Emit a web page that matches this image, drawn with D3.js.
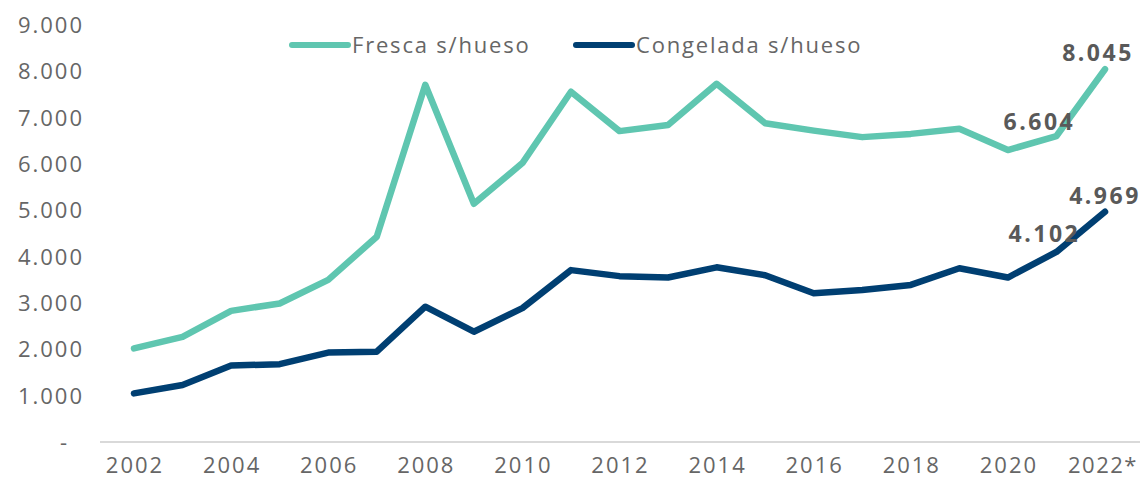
<!DOCTYPE html>
<html>
<head>
  <meta charset="utf-8">
  <script src="https://cdn.jsdelivr.net/npm/d3@7"></script>
  <style>
    body { margin: 0; background: #fff; }
    text { font-family: "Open Sans", sans-serif; fill: #666; }
  </style>
</head>
<body>
<script>
var years = d3.range(2002, 2023);
var yearLabels = ["2002", "2004", "2006", "2008", "2010", "2012", "2014", "2016", "2018", "2020", "2022*"];
var fresca = [2020, 2270, 2830, 2990, 3500, 4430, 7710, 5140, 6020, 7560, 6710,
              6840, 7730, 6880, 6720, 6580, 6650, 6760, 6300, 6604, 8045];
var congelada = [1050, 1230, 1650, 1680, 1930, 1950, 2920, 2380, 2890, 3710, 3580,
                 3550, 3770, 3600, 3210, 3280, 3390, 3750, 3550, 4102, 4969];
var yTicks = [0, 1000, 2000, 3000, 4000, 5000, 6000, 7000, 8000, 9000];
var series = [
  {name: "Fresca s/hueso", values: fresca, color: "#5fc6b0"},
  {name: "Congelada s/hueso", values: congelada, color: "#003f72"}
];
var labels = [
  {s: 0, i: 19, dx: -17, dy: -6},
  {s: 0, i: 20, dx: -7, dy: -8},
  {s: 1, i: 19, dx: -12, dy: -10},
  {s: 1, i: 20, dx: 0, dy: -8}
];

var width = 1143, height = 481;
var svg = d3.select("body").append("svg")
  .attr("width", width)
  .attr("height", height);

var x = d3.scaleLinear().domain([2002, 2022]).range([134, 1105]);
var y = d3.scaleLinear().domain([0, 9000]).range([442, 25]);

var fmt = function(v) { return v === 0 ? "-" : d3.format(",")(v).replace(/,/g, "."); };

// axis line
svg.append("line")
  .attr("x1", 100).attr("x2", 1140)
  .attr("y1", y(0)).attr("y2", y(0))
  .style("stroke", "#d9d9d9").style("stroke-width", 2);

svg.selectAll(".ytick")
  .data(yTicks)
  .enter().append("text")
  .attr("class", "ytick")
  .attr("x", function(d) { return d === 0 ? 69 : 84; })
  .attr("y", function(d) { return y(d) + 8; })
  .attr("text-anchor", "end")
  .style("font-size", "22px")
  .style("letter-spacing", "2px")
  .text(fmt);

svg.selectAll(".xtick")
  .data(yearLabels)
  .enter().append("text")
  .attr("class", "xtick")
  .attr("x", function(d) { return x(+d.slice(0, 4)) + (d.length > 4 ? -2 : 1); })
  .attr("y", 473)
  .attr("text-anchor", "middle")
  .style("font-size", "22px")
  .style("letter-spacing", function(d) { return d.length > 4 ? "1.5px" : "2px"; })
  .text(function(d) { return d; });

var line = d3.line()
  .x(function(d, i) { return x(years[i]); })
  .y(function(d) { return y(d); });

svg.selectAll(".series")
  .data(series)
  .enter().append("path")
  .attr("class", "series")
  .attr("d", function(d) { return line(d.values); })
  .style("fill", "none")
  .style("stroke", function(d) { return d.color; })
  .style("stroke-width", 6.5)
  .style("stroke-linejoin", "round")
  .style("stroke-linecap", "round");

svg.selectAll(".dlabel")
  .data(labels)
  .enter().append("text")
  .attr("class", "dlabel")
  .attr("x", function(d) { return x(years[d.i]) + d.dx; })
  .attr("y", function(d) { return y(series[d.s].values[d.i]) + d.dy; })
  .attr("text-anchor", "middle")
  .style("font-size", "23px")
  .style("font-weight", "bold")
  .style("letter-spacing", "2.5px")
  .style("fill", "#595959")
  .text(function(d) { return fmt(series[d.s].values[d.i]); });

// legend
var legend = svg.selectAll(".legend")
  .data(series)
  .enter().append("g")
  .attr("class", "legend")
  .attr("transform", function(d, i) { return "translate(" + (i === 0 ? 292 : 576) + ",45)"; });

legend.append("line")
  .attr("x1", 0).attr("x2", 56)
  .style("stroke", function(d) { return d.color; })
  .style("stroke-width", 6)
  .style("stroke-linecap", "round");

legend.append("text")
  .attr("x", 60)
  .attr("y", 8)
  .style("font-size", "22px")
  .style("letter-spacing", "1.8px")
  .text(function(d) { return d.name; });
</script>
</body>
</html>
